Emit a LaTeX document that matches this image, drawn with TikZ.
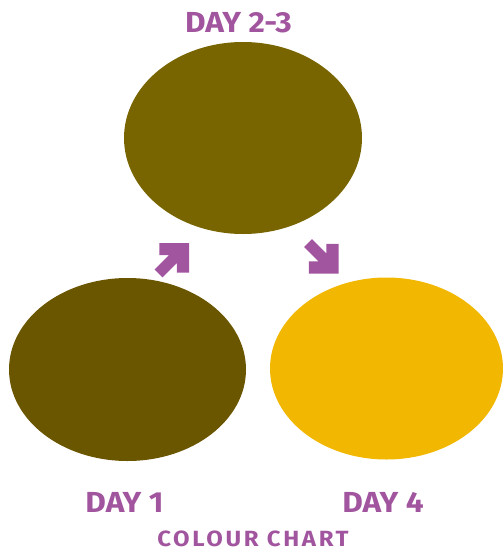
\documentclass[tikz,border=0pt]{standalone}
\usepackage{fontspec}
\setmainfont{Fira Sans}
\newfontfamily\labfont[FakeStretch=1.09]{Fira Sans}
\newfontfamily\titfont[FakeStretch=1.09,LetterSpace=12]{Fira Sans}
\definecolor{purp}{HTML}{A1559E}
\definecolor{olivetop}{HTML}{786500}
\definecolor{olivedark}{HTML}{6B5600}
\definecolor{amber}{HTML}{F2B700}
\begin{document}
\begin{tikzpicture}[x=1pt,y=-1pt,
  label/.style={text=purp,font=\labfont\bfseries\fontsize{29}{30}\selectfont,inner sep=0pt},
  title/.style={text=purp,font=\titfont\bfseries\fontsize{22}{24}\selectfont,inner sep=0pt},
  arrowshape/.style={fill=purp,draw=none}]
\useasboundingbox (0,0) rectangle (503,552);
\fill[olivetop] (243,138) ellipse [x radius=119, y radius=96];
\fill[olivedark] (127.5,369.5) ellipse [x radius=118.5, y radius=91.5];
\fill[amber] (386.5,368.5) ellipse [x radius=116.5, y radius=91];
\node[label] (d23) at (238.5,22.5) {DAY 2-3};
\node[label] (d1) at (124.5,502) {DAY 1};
\node[label] (d4) at (383,502) {DAY 4};
\node[title] (cc) at (253,539) {COLOUR CHART};
\begin{scope}[shift={(189,243)},rotate=45]
\fill[arrowshape] (0,0) -- (-21,21) -- (-29.5,12.5) -- (-22.5,5.5) -- (-43,5.5) -- (-43,-5.5) -- (-22.5,-5.5) -- (-29.5,-12.5) -- (-21,-21) -- cycle;
\end{scope}
\begin{scope}[shift={(338.5,273.5)},rotate=-45]
\fill[arrowshape] (0,0) -- (-21,21) -- (-29.5,12.5) -- (-22.5,5.5) -- (-43,5.5) -- (-43,-5.5) -- (-22.5,-5.5) -- (-29.5,-12.5) -- (-21,-21) -- cycle;
\end{scope}
\end{tikzpicture}
\end{document}
